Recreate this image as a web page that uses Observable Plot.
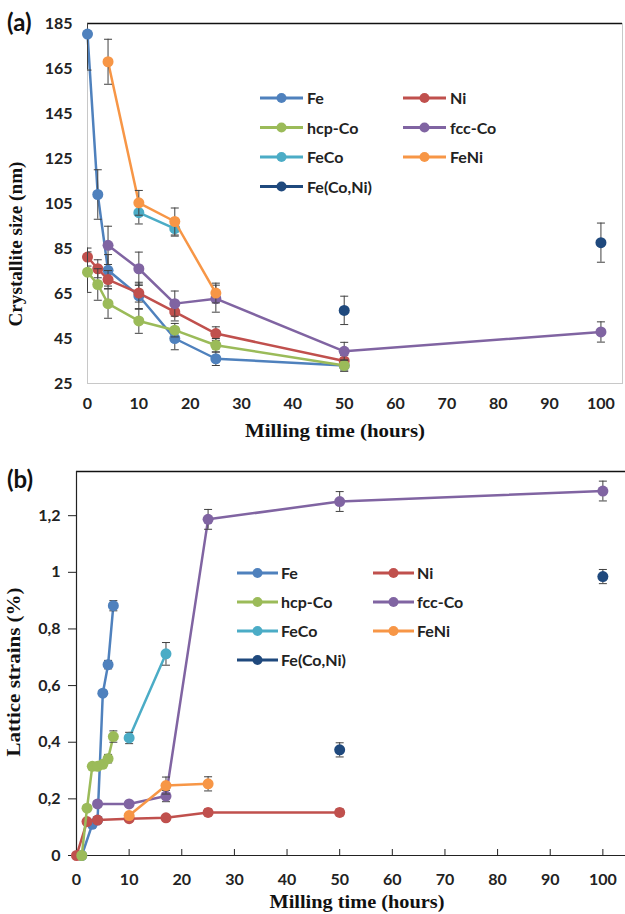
<!DOCTYPE html>
<html><head><meta charset="utf-8">
<script src="https://cdn.jsdelivr.net/npm/d3@7"></script>
<script src="https://cdn.jsdelivr.net/npm/@observablehq/plot@0.6"></script>
<style>
body{margin:0;background:#fff;}
#wrap{position:relative;width:625px;height:914px;overflow:hidden;background:#fff;}
.panel{position:absolute;left:0;}
</style></head><body><div id="wrap"></div>
<script>
// ---------- series ----------
const seriesNames = ["Fe", "Ni", "hcp-Co", "fcc-Co", "FeCo", "FeNi", "Fe(Co,Ni)"];
const seriesColors = ["#4F81BD", "#C0504D", "#9BBB59", "#8064A2", "#4BACC6", "#F79646", "#1F497D"];
const linelessSeries = ["Fe(Co,Ni)"];
const xTicks = [0, 10, 20, 30, 40, 50, 60, 70, 80, 90, 100];

// ---------- panel (a): crystallite size (nm) ----------
const aFeTime = [0, 2, 4, 10, 17, 25, 50];
const aFeSize = [180.3, 109, 75.3, 64, 45, 36, 33];
const aFeErr  = [16, 11, 7, 6, 5, 3, 2.5];
const aNiTime = [0, 2, 4, 10, 17, 25, 50];
const aNiSize = [81.2, 76, 71.2, 65.2, 56.8, 47.2, 35];
const aNiErr  = [4, 4, 4, 4, 4, 3, 2.5];
const aHcpTime = [0, 2, 4, 10, 17, 25, 50];
const aHcpSize = [74.5, 69, 60.5, 52.8, 48.7, 42, 33];
const aHcpErr  = [9, 7, 6.5, 5.5, 3, 3, 2.5];
const aFccTime = [4, 10, 17, 25, 50, 100];
const aFccSize = [86.4, 76, 60.5, 62.7, 39.3, 47.9];
const aFccErr  = [8.5, 7.4, 5.6, 6, 4, 4.5];
const aFeCoTime = [10, 17];
const aFeCoSize = [100.9, 93.8];
const aFeCoErr  = [5, 3.3];
const aFeNiTime = [4, 10, 17, 25];
const aFeNiSize = [168, 105.3, 97, 65.2];
const aFeNiErr  = [10, 5.5, 6, 4.4];
const aFeCoNiTime = [50, 100];
const aFeCoNiSize = [57.5, 87.6];
const aFeCoNiErr  = [6.3, 8.7];
const aYTicks = [25, 45, 65, 85, 105, 125, 145, 165, 185];
const aYDomain = [25, 185];
const aXDomain = [0, 104.2];

// ---------- panel (b): lattice strains (%) ----------
const bFeTime = [1, 3, 4, 5, 6, 7];
const bFeStrain = [0, 0.11, 0.125, 0.573, 0.674, 0.882];
const bFeErr    = [0, 0.01, 0.01, 0.01, 0.015, 0.018];
const bNiTime = [0, 2, 4, 10, 17, 25, 50];
const bNiStrain = [0, 0.12, 0.125, 0.13, 0.133, 0.152, 0.152];
const bNiErr    = [0, 0.01, 0.01, 0.01, 0.01, 0.012, 0.012];
const bHcpTime = [1, 2, 3, 4, 5, 6, 7];
const bHcpStrain = [0, 0.167, 0.315, 0.315, 0.322, 0.342, 0.42];
const bHcpErr    = [0, 0.01, 0.01, 0.01, 0.01, 0.015, 0.02];
const bFccTime = [4, 10, 17, 25, 50, 100];
const bFccStrain = [0.182, 0.182, 0.21, 1.187, 1.25, 1.287];
const bFccErr    = [0.01, 0.01, 0.02, 0.035, 0.035, 0.035];
const bFeCoTime = [10, 17];
const bFeCoStrain = [0.415, 0.712];
const bFeCoErr    = [0.02, 0.04];
const bFeNiTime = [10, 17, 25];
const bFeNiStrain = [0.141, 0.247, 0.253];
const bFeNiErr    = [0.01, 0.03, 0.025];
const bFeCoNiTime = [50, 100];
const bFeCoNiStrain = [0.373, 0.985];
const bFeCoNiErr    = [0.025, 0.025];
const bYTicks = [0, 0.2, 0.4, 0.6, 0.8, 1, 1.2];
const bYDomain = [0, 1.356];
const bXDomain = [0, 104.3];

// ---------- build tables ----------
function buildRows(times, values, errs) {
  return seriesNames.flatMap((name, i) =>
    times[i].map((t, j) => ({series: name, t, v: values[i][j], e: errs[i][j]})));
}
const rowsA = buildRows(
  [aFeTime, aNiTime, aHcpTime, aFccTime, aFeCoTime, aFeNiTime, aFeCoNiTime],
  [aFeSize, aNiSize, aHcpSize, aFccSize, aFeCoSize, aFeNiSize, aFeCoNiSize],
  [aFeErr, aNiErr, aHcpErr, aFccErr, aFeCoErr, aFeNiErr, aFeCoNiErr]);
const rowsB = buildRows(
  [bFeTime, bNiTime, bHcpTime, bFccTime, bFeCoTime, bFeNiTime, bFeCoNiTime],
  [bFeStrain, bNiStrain, bHcpStrain, bFccStrain, bFeCoStrain, bFeNiStrain, bFeCoNiStrain],
  [bFeErr, bNiErr, bHcpErr, bFccErr, bFeCoErr, bFeNiErr, bFeCoNiErr]);

const capSymbol = {draw(ctx, size) { const w = Math.sqrt(size / Math.PI); ctx.moveTo(-w, 0); ctx.lineTo(w, 0); }};
const errColor = "#404040";

function seriesMarks(rows) {
  return seriesNames.flatMap(name => {
    const d = rows.filter(r => r.series === name);
    const eb = d.filter(r => r.e > 0);
    const m = [];
    if (!linelessSeries.includes(name)) m.push(Plot.line(d, {x: "t", y: "v", stroke: "series", strokeWidth: 2.5}));
    m.push(Plot.ruleX(eb, {x: "t", y1: r => r.v - r.e, y2: r => r.v + r.e, stroke: errColor, strokeWidth: 1, clip: true}));
    m.push(Plot.dot(eb, {x: "t", y: r => r.v + r.e, symbol: capSymbol, r: 4, stroke: errColor, strokeWidth: 1, fill: "none", clip: true}));
    m.push(Plot.dot(eb, {x: "t", y: r => r.v - r.e, symbol: capSymbol, r: 4, stroke: errColor, strokeWidth: 1, fill: "none", clip: true}));
    m.push(Plot.dot(d, {x: "t", y: "v", fill: "series", r: 5.5}));
    return m;
  });
}

const baseStyle = {fontFamily: "Lato, 'Open Sans', sans-serif", fontSize: "16px", fontWeight: "bold", color: "#222", background: "transparent", overflow: "visible"};

// ---------- panel (a) ----------
const plotA = Plot.plot({
  width: 625, height: 440,
  marginLeft: 87, marginRight: 3, marginTop: 23, marginBottom: 57,
  x: {domain: aXDomain},
  y: {domain: aYDomain},
  color: {domain: seriesNames, range: seriesColors},
  style: baseStyle,
  marks: [
    Plot.frame({stroke: "#c8c8c8"}),
    Plot.axisX({ticks: xTicks, tickSize: 0, tickPadding: 14, label: null}),
    Plot.axisY({ticks: aYTicks, tickSize: 0, tickPadding: 15, label: null}),
    Plot.ruleY([aYDomain[1]], {stroke: "#111", strokeWidth: 1.5}),
    ...seriesMarks(rowsA)
  ]
});

// ---------- panel (b) ----------
const plotB = Plot.plot({
  width: 625, height: 474,
  marginLeft: 76, marginRight: 0, marginTop: 31, marginBottom: 59,
  x: {domain: bXDomain},
  y: {domain: bYDomain},
  color: {domain: seriesNames, range: seriesColors},
  style: baseStyle,
  marks: [
    Plot.ruleY([bYDomain[1]], {stroke: "#111", strokeWidth: 1.5}),
    Plot.ruleX([bXDomain[0]], {stroke: "#222", strokeWidth: 1.2}),
    Plot.ruleY([bYDomain[0]], {stroke: "#222", strokeWidth: 1.2}),
    Plot.axisX({ticks: xTicks, tickSize: -6, tickFormat: () => "", label: null}),
    Plot.axisX({ticks: xTicks, tickSize: 0, tickPadding: 18, label: null}),
    Plot.axisY({ticks: bYTicks, tickSize: 8, tickPadding: 8, tickFormat: d => String(d).replace(".", ","), label: null}),
    ...seriesMarks(rowsB)
  ]
});

// ---------- titles & legends ----------
const serif = "'Liberation Serif', 'DejaVu Serif', serif";
function addText(svg, txt, x, y, opts) {
  const t = d3.select(svg).append("text").text(txt)
    .attr("font-family", opts.family || serif)
    .attr("font-size", opts.size || 18)
    .attr("font-weight", "bold")
    .attr("fill", "#111")
    .attr("text-anchor", opts.anchor || "middle");
  if (opts.rotate) {
    t.attr("transform", `translate(${x},${y}) rotate(-90)`);
  } else {
    t.attr("x", x).attr("y", y);
  }
  if (opts.length) t.attr("textLength", opts.length).attr("lengthAdjust", "spacingAndGlyphs");
  return t;
}
function addLegend(svg, x0, y0, colGap, rowGap, lineLen, textOff) {
  const g = d3.select(svg).append("g").attr("text-anchor", "start");
  seriesNames.forEach((name, i) => {
    const col = i % 2, row = Math.floor(i / 2);
    const x = x0 + col * colGap, y = y0 + row * rowGap;
    g.append("line").attr("x1", x).attr("x2", x + lineLen).attr("y1", y).attr("y2", y)
      .attr("stroke", seriesColors[i]).attr("stroke-width", 2.8);
    g.append("circle").attr("cx", x + lineLen / 2).attr("cy", y).attr("r", 5).attr("fill", seriesColors[i]);
    g.append("text").text(name).attr("x", x + textOff).attr("y", y + 6)
      .attr("text-anchor", "start")
      .attr("font-family", "Lato, 'Open Sans', sans-serif").attr("font-size", 16)
      .attr("font-weight", "bold").attr("fill", "#222");
  });
}

addText(plotA, "Milling time (hours)", 335, 437, {length: 180});
addText(plotA, "Crystallite size (nm)", 22, 244, {rotate: true, length: 165});
addText(plotA, "(a)", 7, 31, {family: "Lato, 'Open Sans', sans-serif", size: 24, anchor: "start"});
addLegend(plotA, 260, 98, 143, 29.5, 43, 47);

addText(plotB, "Milling time (hours)", 357, 468, {length: 175});
addText(plotB, "Lattice strains (%)", 20, 232, {rotate: true, length: 169});
addText(plotB, "(b)", 7, 48, {family: "Lato, 'Open Sans', sans-serif", size: 24, anchor: "start"});
addLegend(plotB, 237, 133, 136, 29, 41, 44);

const wrap = document.getElementById("wrap");
const da = document.createElement("div"); da.className = "panel"; da.style.top = "0px"; da.appendChild(plotA);
const db = document.createElement("div"); db.className = "panel"; db.style.top = "440px"; db.appendChild(plotB);
wrap.appendChild(da); wrap.appendChild(db);
</script></body></html>
